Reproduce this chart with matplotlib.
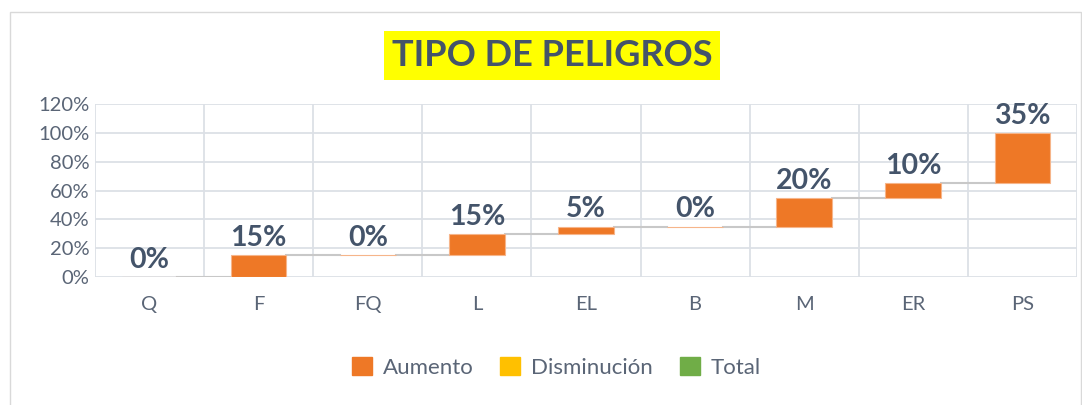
import matplotlib.pyplot as plt
import matplotlib.patches as mpatches
from matplotlib.ticker import PercentFormatter

# categories and increments (percent)
categories = ["Q", "F", "FQ", "L", "EL", "B", "M", "ER", "PS"]
increments = [0, 15, 0, 15, 5, 0, 20, 10, 35]
labels = ["0%", "15%", "0%", "15%", "5%", "0%", "20%", "10%", "35%"]
y_ticks = [0, 20, 40, 60, 80, 100, 120]

orange = "#EE7826"
yellow = "#FFC000"
green = "#70AD47"
text_col = "#44546A"
grid_col = "#DCE0E6"

plt.rcParams['font.family'] = ['Lato', 'DejaVu Sans']

fig = plt.figure(figsize=(10.82, 4.05), dpi=100)
ax = fig.add_axes([0.0878, 0.316, 0.9075, 0.427])

# waterfall bottoms
bottoms = []
total = 0
for v in increments:
    bottoms.append(total)
    total += v
tops = [b + v for b, v in zip(bottoms, increments)]

xs = list(range(len(categories)))
width = 0.51
ax.bar(xs, increments, bottom=bottoms, width=width, color=orange,
       edgecolor="#F6B58A", linewidth=0.8, zorder=3)

# connector lines
for i in range(len(xs) - 1):
    ax.plot([xs[i] + width / 2, xs[i + 1] - width / 2], [tops[i], tops[i]],
            color="#C8C8C8", linewidth=1.5, zorder=2)

# data labels
for x, t, lab in zip(xs, tops, labels):
    ax.annotate(lab, (x, t), xytext=(0, 3), textcoords="offset points",
                ha="center", va="bottom", fontsize=20.5, fontweight="bold",
                color=text_col, zorder=4)

ax.set_xlim(-0.5, len(categories) - 0.5)
ax.set_ylim(0, 120)
ax.set_yticks(y_ticks)
ax.yaxis.set_major_formatter(PercentFormatter(decimals=0))
ax.set_xticks(xs)
ax.set_xticklabels(categories)
ax.tick_params(axis="both", length=0, labelsize=14.5, labelcolor="#5A6576")
ax.tick_params(axis="x", pad=14)
ax.tick_params(axis="y", pad=4)

# grid: horizontal at ticks, vertical at category boundaries
ax.set_xticks([x + 0.5 for x in xs[:-1]], minor=True)
ax.grid(axis="y", which="major", color=grid_col, linewidth=1.3, zorder=0)
ax.grid(axis="x", which="minor", color=grid_col, linewidth=1.3, zorder=0)
ax.tick_params(axis="x", which="minor", length=0)
for s in ax.spines.values():
    s.set_visible(False)
ax.axvline(-0.5, color=grid_col, linewidth=1.3, zorder=0)
ax.axvline(len(categories) - 0.5, color=grid_col, linewidth=1.3, zorder=0)
ax.set_axisbelow(True)

# title with yellow background
fig.text(0.510, 0.862, "TIPO DE PELIGROS", ha="center", va="center",
         fontsize=26, fontweight="bold", color=text_col,
         bbox=dict(boxstyle="square,pad=0.22", facecolor="#FFFF00", edgecolor="none"))

# legend
handles = [mpatches.Patch(color=orange, label="Aumento"),
           mpatches.Patch(color=yellow, label="Disminución"),
           mpatches.Patch(color=green, label="Total")]
fig.legend(handles=handles, loc="center", bbox_to_anchor=(0.514, 0.093), ncol=3,
           frameon=False, fontsize=16, labelcolor="#5A6576", handlelength=0.9,
           handleheight=0.9, handletextpad=0.5, columnspacing=1.2)

# outer chart border
fig.patches.append(mpatches.Rectangle((0.009, -0.02), 0.99, 0.99, transform=fig.transFigure,
                                      fill=False, edgecolor="#D9D9D9", linewidth=1))

fig.savefig("out.png", dpi=100)
